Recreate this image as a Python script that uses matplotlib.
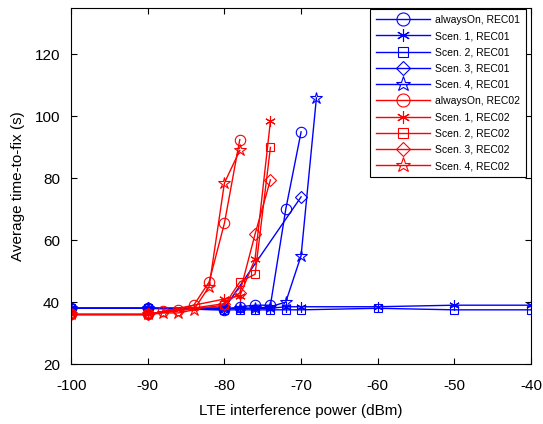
import matplotlib
matplotlib.use("Agg")
import matplotlib.pyplot as plt

plt.rcParams["font.family"] = ["Liberation Sans", "DejaVu Sans"]
plt.rcParams["axes.unicode_minus"] = False

# REC01 (blue)
x_on_01 = [-100, -90, -80, -78, -76, -74, -72, -70]
y_on_01 = [38, 38, 37.5, 38.5, 39, 39, 70, 95]
x_s1_01 = [-100, -90, -80, -78, -76, -74, -72, -70, -60, -50, -40]
y_s1_01 = [38, 38, 38, 38, 38, 38, 38.5, 38.5, 38.5, 39, 39]
x_s2_01 = [-100, -90, -80, -78, -76, -74, -72, -70, -60, -50, -40]
y_s2_01 = [38, 38, 37.5, 37.5, 37.5, 37.5, 37.5, 37.5, 38, 37.5, 37.5]
x_s3_01 = [-100, -90, -80, -70]
y_s3_01 = [38, 38, 38, 74]
x_s4_01 = [-100, -90, -80, -78, -76, -74, -72, -70, -68]
y_s4_01 = [38, 38, 38, 38, 38, 38.5, 40, 55, 106]

# REC02 (red)
x_on_02 = [-100, -90, -88, -86, -84, -82, -80, -78]
y_on_02 = [36, 36, 37, 37.5, 39, 46.5, 65.5, 92.5]
x_s1_02 = [-100, -90, -80, -78, -76, -74]
y_s1_02 = [36, 36, 41, 42, 54, 98.5]
x_s2_02 = [-100, -90, -80, -78, -76, -74]
y_s2_02 = [36, 36, 39, 46.5, 49, 90]
x_s3_02 = [-100, -90, -80, -78, -76, -74]
y_s3_02 = [36, 36, 39.5, 43, 62, 79.5]
x_s4_02 = [-100, -90, -88, -86, -84, -82, -80, -78]
y_s4_02 = [36, 36, 36.5, 36.5, 37.5, 45, 78.5, 89]

series = [
    ("alwaysOn, REC01", x_on_01, y_on_01, "blue", "o"),
    ("Scen. 1, REC01", x_s1_01, y_s1_01, "blue", (6, 2, 0)),
    ("Scen. 2, REC01", x_s2_01, y_s2_01, "blue", "s"),
    ("Scen. 3, REC01", x_s3_01, y_s3_01, "blue", "D"),
    ("Scen. 4, REC01", x_s4_01, y_s4_01, "blue", "*"),
    ("alwaysOn, REC02", x_on_02, y_on_02, "red", "o"),
    ("Scen. 1, REC02", x_s1_02, y_s1_02, "red", (6, 2, 0)),
    ("Scen. 2, REC02", x_s2_02, y_s2_02, "red", "s"),
    ("Scen. 3, REC02", x_s3_02, y_s3_02, "red", "D"),
    ("Scen. 4, REC02", x_s4_02, y_s4_02, "red", "*"),
]

sizes = {"o": 7.5, "s": 6, "D": 6, "*": 9}

fig = plt.figure(figsize=(5.43, 4.24), dpi=100)
ax = fig.add_axes([0.131, 0.1415, 0.847, 0.8395])

for label, xs, ys, color, marker in series:
    ms = sizes.get(marker, 7.5) if isinstance(marker, str) else 7.5
    ax.plot(xs, ys, color=color, marker=marker, markersize=ms,
            markerfacecolor="none", markeredgecolor=color,
            markeredgewidth=0.8, linewidth=1.0, label=label)

ax.set_xlim(-100, -40)
ax.set_ylim(20, 135)
ax.set_xticks(range(-100, -39, 10))
ax.set_yticks(range(20, 121, 20))
ax.tick_params(direction="in", top=True, right=True, labelsize=11, length=4)
ax.tick_params(axis="x", pad=10.5)
ax.tick_params(axis="y", pad=8)
for sp in ax.spines.values():
    sp.set_linewidth(0.8)
ax.set_xlabel("LTE interference power (dBm)", fontsize=11, labelpad=8)
ax.set_ylabel("Average time-to-fix (s)", fontsize=11, labelpad=7)

leg = ax.legend(loc="upper right", bbox_to_anchor=(0.989, 0.997),
                fontsize=7.5, handlelength=5.2, markerscale=1.25,
                labelspacing=0.6, borderaxespad=0, fancybox=False,
                framealpha=1, edgecolor="black", borderpad=0.55,
                handletextpad=0.5)
leg.get_frame().set_linewidth(0.8)

fig.savefig("out.png", dpi=100)
